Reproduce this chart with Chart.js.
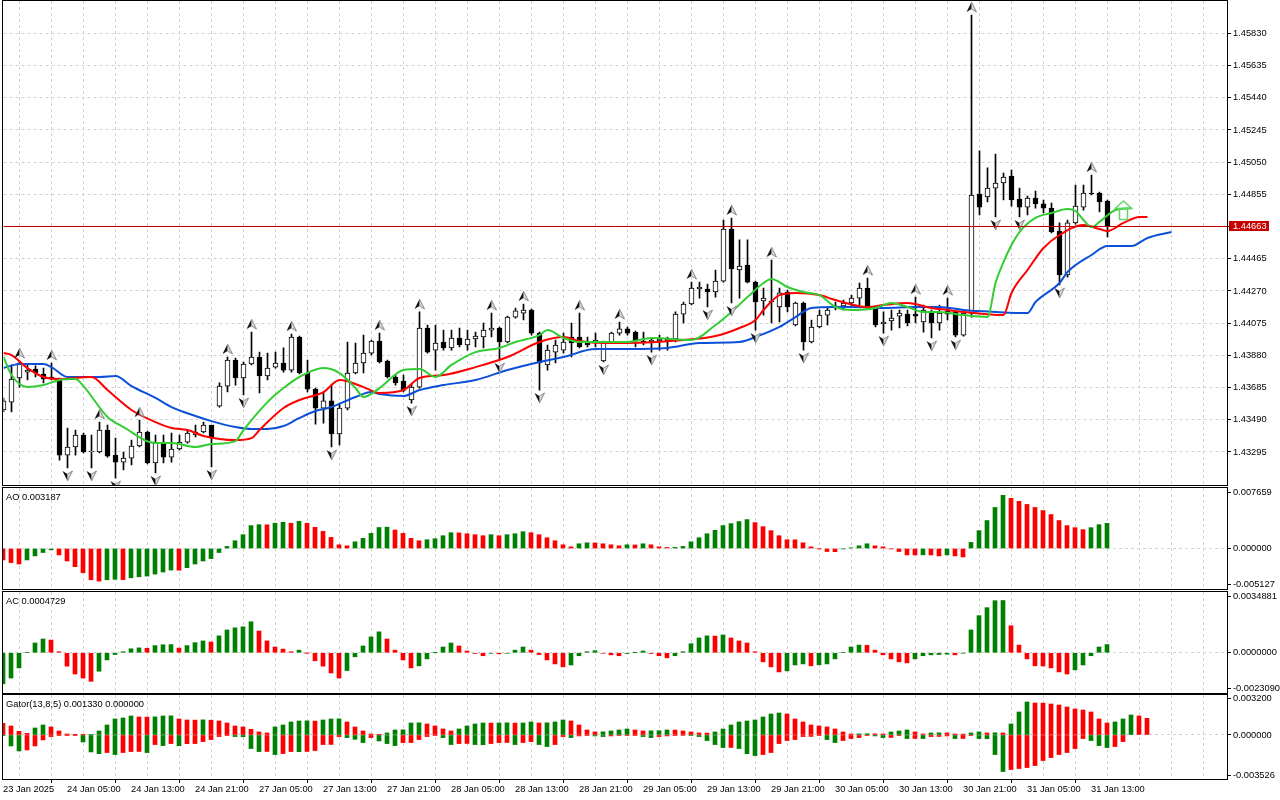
<!DOCTYPE html>
<html>
<head>
<meta charset="utf-8">
<script src="https://cdn.jsdelivr.net/npm/chart.js@4.4.1/dist/chart.umd.min.js"></script>
<style>
  html, body { margin: 0; padding: 0; background: #fff; }
  #wrap { position: relative; width: 1280px; height: 800px; overflow: hidden; background: #fff; }
  #wrap canvas { position: absolute; left: 0; }
</style>
</head>
<body>
<div id="wrap">
  <canvas id="main" width="1280" height="486" style="top:0"></canvas>
  <canvas id="ao" width="1280" height="103" style="top:487px"></canvas>
  <canvas id="ac" width="1280" height="103" style="top:591px"></canvas>
  <canvas id="gator" width="1280" height="105" style="top:694px"></canvas>
</div>
<script>
// hourly bars, 23 Jan 21:00 .. 31 Jan 18:00
const timeLabels = ['23 Jan 2025', '24 Jan 05:00', '24 Jan 13:00', '24 Jan 21:00', '27 Jan 05:00', '27 Jan 13:00',
  '27 Jan 21:00', '28 Jan 05:00', '28 Jan 13:00', '28 Jan 21:00', '29 Jan 05:00', '29 Jan 13:00', '29 Jan 21:00',
  '30 Jan 05:00', '30 Jan 13:00', '30 Jan 21:00', '31 Jan 05:00', '31 Jan 13:00'];

const openP = [
  1.43549,1.43597,1.43743,1.43779,1.43797,1.43767,1.43749,1.43731,1.43276,1.43325,
  1.43398,1.43295,1.43295,1.43428,1.43276,1.43234,1.43258,1.43331,1.43416,1.43228,
  1.43355,1.43264,1.43313,1.43355,1.43398,1.43416,1.43458,1.43573,1.43694,1.43852,
  1.43743,1.43828,1.43870,1.43755,1.43809,1.43834,1.43791,1.43991,1.43773,1.43676,
  1.43561,1.43604,1.43404,1.43561,1.43773,1.43834,1.43894,1.43967,1.43846,1.43749,
  1.43725,1.43610,1.43688,1.44046,1.43912,1.43961,1.43925,1.43985,1.43943,1.43979,
  1.43991,1.44033,1.44046,1.43961,1.44112,1.44136,1.44155,1.44015,1.43822,1.43900,
  1.43912,1.43991,1.43991,1.43955,1.43955,1.43846,1.43961,1.44015,1.44040,1.44021,
  1.43967,1.43961,1.43967,1.43967,1.43979,1.44130,1.44191,1.44282,1.44282,1.44264,
  1.44330,1.44645,1.44397,1.44427,1.44324,1.44209,1.44209,1.44173,1.44264,1.44064,
  1.44197,1.43961,1.44052,1.44124,1.44167,1.44179,1.44197,1.44227,1.44288,1.44173,
  1.44070,1.44088,1.44118,1.44130,1.44130,1.44082,1.44136,1.44076,1.44149,1.44143,
  1.44003,1.44136,1.44857,1.44839,1.44893,1.44924,1.44966,1.44827,1.44778,1.44833,
  1.44797,1.44772,1.44633,1.44367,1.44682,1.44778,1.44863,1.44863,1.44815];
const highP = [
  1.43622,1.43822,1.43846,1.43822,1.43816,1.43803,1.43834,1.43743,1.43440,1.43428,
  1.43410,1.43398,1.43476,1.43458,1.43379,1.43295,1.43367,1.43488,1.43422,1.43398,
  1.43398,1.43410,1.43398,1.43428,1.43458,1.43476,1.43458,1.43713,1.43870,1.43864,
  1.43840,1.44021,1.43900,1.43894,1.43900,1.43925,1.44009,1.43997,1.43852,1.43682,
  1.43658,1.43700,1.43591,1.43961,1.43955,1.44003,1.43973,1.44015,1.43852,1.43761,
  1.43761,1.43706,1.44143,1.44064,1.44064,1.44033,1.44033,1.44046,1.44033,1.44021,
  1.44076,1.44136,1.44052,1.44118,1.44167,1.44191,1.44161,1.44021,1.43943,1.43973,
  1.44015,1.44076,1.44136,1.43991,1.44015,1.43967,1.44021,1.44082,1.44052,1.44027,
  1.44021,1.43985,1.44003,1.43991,1.44143,1.44203,1.44324,1.44324,1.44312,1.44397,
  1.44700,1.44712,1.44579,1.44579,1.44330,1.44288,1.44457,1.44288,1.44276,1.44203,
  1.44203,1.44094,1.44155,1.44173,1.44203,1.44215,1.44245,1.44318,1.44348,1.44179,
  1.44143,1.44155,1.44155,1.44155,1.44233,1.44185,1.44155,1.44185,1.44227,1.44149,
  1.44143,1.45941,1.45118,1.45015,1.45099,1.44984,1.45002,1.44893,1.44845,1.44875,
  1.44821,1.44803,1.44682,1.44700,1.44912,1.44912,1.44972,1.44869,1.44821];
const lowP = [
  1.43537,1.43537,1.43688,1.43731,1.43749,1.43713,1.43731,1.43246,1.43198,1.43276,
  1.43289,1.43198,1.43289,1.43264,1.43137,1.43186,1.43216,1.43325,1.43222,1.43168,
  1.43228,1.43234,1.43307,1.43349,1.43386,1.43410,1.43204,1.43567,1.43658,1.43700,
  1.43640,1.43822,1.43652,1.43731,1.43803,1.43779,1.43779,1.43767,1.43658,1.43464,
  1.43470,1.43325,1.43337,1.43549,1.43767,1.43773,1.43882,1.43834,1.43743,1.43700,
  1.43658,1.43591,1.43682,1.43894,1.43791,1.43912,1.43912,1.43931,1.43912,1.43931,
  1.43925,1.43991,1.43852,1.43955,1.44106,1.44094,1.44003,1.43670,1.43791,1.43834,
  1.43894,1.43870,1.43925,1.43931,1.43931,1.43840,1.43955,1.44003,1.44003,1.43931,
  1.43943,1.43900,1.43912,1.43912,1.43961,1.44076,1.44185,1.44227,1.44173,1.44233,
  1.44324,1.44197,1.44227,1.44318,1.44033,1.44124,1.44076,1.44082,1.44143,1.44058,
  1.43912,1.43955,1.44046,1.44064,1.44155,1.44155,1.44173,1.44185,1.44167,1.44052,
  1.44015,1.44033,1.44046,1.44058,1.44076,1.44021,1.43985,1.44033,1.44094,1.43991,
  1.43997,1.44112,1.44730,1.44809,1.44718,1.44821,1.44784,1.44718,1.44730,1.44772,
  1.44742,1.44621,1.44306,1.44354,1.44675,1.44760,1.44851,1.44748,1.44597];
const closeP = [
  1.43604,1.43737,1.43834,1.43791,1.43773,1.43737,1.43737,1.43276,1.43325,1.43398,
  1.43295,1.43301,1.43428,1.43270,1.43234,1.43258,1.43331,1.43416,1.43228,1.43349,
  1.43264,1.43313,1.43355,1.43410,1.43416,1.43458,1.43386,1.43694,1.43852,1.43743,
  1.43828,1.43870,1.43755,1.43803,1.43834,1.43791,1.43991,1.43773,1.43676,1.43561,
  1.43604,1.43404,1.43561,1.43773,1.43834,1.43894,1.43967,1.43840,1.43749,1.43713,
  1.43670,1.43688,1.44046,1.43900,1.43955,1.43925,1.43985,1.43943,1.43979,1.43997,
  1.44033,1.44046,1.43961,1.44112,1.44149,1.44155,1.44015,1.43834,1.43912,1.43943,
  1.43961,1.43955,1.43931,1.43943,1.43973,1.43961,1.44015,1.44040,1.44015,1.43967,
  1.43961,1.43973,1.43979,1.43979,1.44130,1.44191,1.44288,1.44294,1.44264,1.44330,
  1.44645,1.44403,1.44421,1.44324,1.44203,1.44227,1.44203,1.44258,1.44173,1.44197,
  1.43961,1.44052,1.44124,1.44155,1.44179,1.44197,1.44227,1.44288,1.44173,1.44064,
  1.44082,1.44106,1.44136,1.44076,1.44118,1.44155,1.44076,1.44136,1.44130,1.44003,
  1.44136,1.44851,1.44778,1.44893,1.44924,1.44960,1.44821,1.44778,1.44833,1.44797,
  1.44772,1.44627,1.44367,1.44682,1.44784,1.44863,1.44857,1.44809,1.44663];

// bars carrying a fractal mark
const upFractals = [2, 6, 12, 17, 28, 31, 36, 47, 52, 61, 65, 72, 77, 86, 91, 96, 108, 114, 118, 121, 136];
const downFractals = [8, 11, 14, 19, 26, 30, 41, 51, 62, 67, 75, 81, 88, 91, 94, 100, 110, 116, 119, 124, 127, 132];

// alligator lines (bar index -> price)
const jawIdx = [0,2,5,6,8,12,14,16,19,21,24,26,29,31,33,35,37,39,41,44,46,47,50,52,55,59,63,67,70,74,
  78,83,87,92,94,97,99,101,104,107,110,114,117,120,124,128,129,132,133,136,138,141,143,146];
const jawVal = [1.43803,1.43828,1.43828,1.43809,1.43749,1.43749,1.43755,1.43694,1.43622,1.43567,
  1.43513,1.43482,1.43446,1.43434,1.43434,1.43452,1.43501,1.43543,1.43567,1.43628,
  1.43658,1.43646,1.43634,1.43670,1.43700,1.43731,1.43791,1.43840,1.43870,1.43918,
  1.43918,1.43925,1.43955,1.43961,1.43991,1.44052,1.44112,1.44167,1.44173,1.44173,
  1.44167,1.44173,1.44173,1.44155,1.44143,1.44136,1.44203,1.44318,1.44385,1.44488,
  1.44542,1.44542,1.44591,1.44627];
const teethIdx = [0,1,3,5,7,11,13,16,19,21,23,25,29,31,32,35,37,40,42,45,47,50,52,55,59,63,67,70,72,75,
  78,85,89,92,94,95,97,99,102,104,108,110,113,116,118,120,125,126,128,130,132,135,137,138,140,142,143];
const teethVal = [1.43894,1.43882,1.43803,1.43749,1.43737,1.43749,1.43670,1.43549,1.43476,1.43440,
  1.43428,1.43392,1.43367,1.43379,1.43428,1.43561,1.43610,1.43658,1.43731,1.43688,
  1.43652,1.43670,1.43743,1.43761,1.43809,1.43870,1.43961,1.43991,1.43967,1.43955,
  1.43955,1.43973,1.43997,1.44046,1.44094,1.44155,1.44245,1.44258,1.44245,1.44215,
  1.44173,1.44185,1.44197,1.44167,1.44155,1.44143,1.44124,1.44258,1.44397,1.44530,
  1.44609,1.44669,1.44645,1.44633,1.44682,1.44718,1.44718];
const lipsIdx = [0,1,3,5,7,9,10,13,15,19,21,24,26,29,30,33,35,37,40,42,44,45,47,50,52,54,56,59,62,64,
  67,68,70,72,76,78,81,86,89,91,93,95,96,98,100,102,104,106,109,111,113,115,117,120,123,124,125,126,127,129,
  131,133,134,135,136,137,139,141];
const lipsVal = [1.43870,1.43761,1.43688,1.43700,1.43731,1.43737,1.43694,1.43507,1.43446,1.43349,
  1.43349,1.43325,1.43343,1.43361,1.43428,1.43597,1.43682,1.43749,1.43803,1.43773,
  1.43682,1.43628,1.43682,1.43791,1.43797,1.43749,1.43822,1.43900,1.43925,1.43961,
  1.44003,1.44033,1.43985,1.43961,1.43961,1.43961,1.43985,1.43973,1.44064,1.44143,
  1.44233,1.44318,1.44342,1.44294,1.44264,1.44245,1.44173,1.44155,1.44167,1.44197,
  1.44173,1.44143,1.44143,1.44124,1.44112,1.44318,1.44445,1.44548,1.44627,1.44712,
  1.44742,1.44766,1.44754,1.44700,1.44657,1.44688,1.44760,1.44772];

const signalIdx = 140;
const signalVal = 1.44757;

const priceTicks = [1.43295, 1.43490, 1.43685, 1.43880, 1.44075, 1.44270, 1.44465,
  1.44660, 1.44855, 1.45050, 1.45245, 1.45440, 1.45635, 1.45830];

const aoValues = [
  -0.00145,-0.00179,-0.00196,-0.00145,-0.00094,-0.00051,-0.00017,-0.00081,-0.00158,-0.00230,
  -0.00307,-0.00396,-0.00413,-0.00396,-0.00390,-0.00395,-0.00371,-0.00358,-0.00349,-0.00324,
  -0.00298,-0.00273,-0.00275,-0.00243,-0.00196,-0.00158,-0.00128,-0.00051,0.00026,0.00098,
  0.00175,0.00290,0.00302,0.00300,0.00320,0.00332,0.00320,0.00345,0.00320,0.00268,
  0.00217,0.00141,0.00047,0.00034,0.00085,0.00128,0.00192,0.00266,0.00270,0.00234,
  0.00192,0.00128,0.00098,0.00111,0.00124,0.00162,0.00200,0.00198,0.00187,0.00175,
  0.00162,0.00175,0.00162,0.00175,0.00187,0.00213,0.00200,0.00175,0.00136,0.00098,
  0.00047,0.00021,0.00060,0.00072,0.00070,0.00060,0.00047,0.00034,0.00047,0.00045,
  0.00060,0.00047,0.00021,0.00013,0.00014,0.00026,0.00085,0.00136,0.00187,0.00230,
  0.00290,0.00315,0.00341,0.00366,0.00328,0.00277,0.00226,0.00162,0.00111,0.00110,
  0.00072,0.00021,-0.00002,-0.00038,-0.00040,-0.00005,0.00009,0.00034,0.00060,0.00034,
  0.00021,-0.00004,-0.00038,-0.00081,-0.00082,-0.00080,-0.00082,-0.00094,-0.00081,-0.00094,
  -0.00107,0.00077,0.00226,0.00354,0.00520,0.00673,0.00635,0.00597,0.00558,0.00520,
  0.00481,0.00430,0.00354,0.00290,0.00264,0.00239,0.00264,0.00302,0.003187];
const acValues = [
  -0.00178,-0.00145,-0.00087,0.00002,0.00056,0.00079,0.00073,0.00006,-0.00077,-0.00122,
  -0.00145,-0.00164,-0.00106,-0.00041,-0.00010,0.00006,0.00023,0.00028,0.00026,0.00041,
  0.00046,0.00047,0.00027,0.00041,0.00058,0.00068,0.00062,0.00097,0.00131,0.00143,
  0.00149,0.00178,0.00125,0.00068,0.00033,0.00021,0.00006,0.00015,-0.00001,-0.00046,
  -0.00077,-0.00116,-0.00145,-0.00102,-0.00023,0.00039,0.00091,0.00120,0.00079,0.00015,
  -0.00041,-0.00087,-0.00075,-0.00035,0.00001,0.00033,0.00056,0.00039,0.00010,-0.00004,
  -0.00017,-0.00003,-0.00006,-0.00003,0.00015,0.00033,0.00015,-0.00010,-0.00041,-0.00064,
  -0.00081,-0.00070,-0.00017,0.00006,0.00012,-0.00003,-0.00012,-0.00017,-0.00004,0.00001,
  0.00010,-0.00004,-0.00017,-0.00029,-0.00017,0.00006,0.00052,0.00085,0.00097,0.00096,
  0.00102,0.00085,0.00068,0.00056,0.00006,-0.00052,-0.00081,-0.00110,-0.00104,-0.00070,
  -0.00064,-0.00075,-0.00069,-0.00064,-0.00035,0.00002,0.00033,0.00044,0.00043,0.00015,
  -0.00012,-0.00035,-0.00052,-0.00058,-0.00035,-0.00017,-0.00012,-0.00010,-0.00008,-0.00012,
  -0.00002,0.00131,0.00213,0.00259,0.00299,0.00300,0.00155,0.00044,-0.00035,-0.00075,
  -0.00076,-0.00087,-0.00110,-0.00122,-0.00098,-0.00070,-0.00017,0.00033,0.0004729];
const gatorUp = [
  0.00093,0.00072,0.00029,0.00013,0.00056,0.00080,0.00064,0.00032,0.00008,0.00003,
  0.00001,0.00003,0.00032,0.00080,0.00128,0.00136,0.00152,0.00144,0.00143,0.00145,
  0.00152,0.00153,0.00128,0.00120,0.00119,0.00121,0.00118,0.00112,0.00096,0.00072,
  0.00064,0.00045,0.00024,0.00016,0.00064,0.00080,0.00104,0.00112,0.00113,0.00111,
  0.00120,0.00128,0.00129,0.00104,0.00064,0.00032,0.00008,0.00002,0.00016,0.00040,
  0.00041,0.00096,0.00097,0.00088,0.00072,0.00048,0.00032,0.00048,0.00072,0.00088,
  0.00096,0.00095,0.00096,0.00097,0.00095,0.00096,0.00104,0.00096,0.00097,0.00104,
  0.00120,0.00112,0.00080,0.00040,0.00024,0.00025,0.00032,0.00040,0.00048,0.00040,
  0.00032,0.00033,0.00034,0.00040,0.00039,0.00032,0.00024,0.00016,0.00015,0.00024,
  0.00048,0.00080,0.00104,0.00112,0.00120,0.00144,0.00168,0.00176,0.00168,0.00128,
  0.00104,0.00080,0.00072,0.00064,0.00048,0.00024,0.00008,0.00009,0.00010,0.00009,
  0.00008,0.00024,0.00032,0.00040,0.00024,0.00008,0.00016,0.00017,0.00016,0.00008,
  0.00007,0.00016,0.00024,0.00016,0.00017,0.00016,0.00088,0.00184,0.00264,0.00256,
  0.00255,0.00248,0.00240,0.00224,0.00208,0.00200,0.00184,0.00128,0.00096,0.00104,
  0.00128,0.00160,0.00152,0.00133];
const gatorDown = [
  -0.00003,-0.00088,-0.00128,-0.00120,-0.00088,-0.00040,-0.00013,-0.00005,-0.00002,-0.00001,
  -0.00056,-0.00136,-0.00150,-0.00141,-0.00157,-0.00141,-0.00133,-0.00132,-0.00141,-0.00077,
  -0.00085,-0.00069,-0.00086,-0.00070,-0.00069,-0.00053,-0.00037,-0.00013,-0.00001,-0.00013,
  -0.00014,-0.00109,-0.00133,-0.00132,-0.00157,-0.00149,-0.00133,-0.00134,-0.00132,-0.00125,
  -0.00077,-0.00076,-0.00013,-0.00021,-0.00035,-0.00061,-0.00021,-0.00048,-0.00069,-0.00085,
  -0.00061,-0.00061,-0.00037,-0.00013,-0.00003,-0.00021,-0.00077,-0.00069,-0.00068,-0.00077,
  -0.00078,-0.00069,-0.00061,-0.00060,-0.00077,-0.00061,-0.00053,-0.00077,-0.00093,-0.00077,
  -0.00013,-0.00021,-0.00008,-0.00003,-0.00008,-0.00013,-0.00008,-0.00005,-0.00003,-0.00002,
  -0.00013,-0.00021,-0.00013,-0.00008,-0.00005,-0.00004,-0.00005,-0.00013,-0.00045,-0.00077,
  -0.00101,-0.00100,-0.00109,-0.00150,-0.00165,-0.00157,-0.00141,-0.00069,-0.00045,-0.00037,
  -0.00013,-0.00012,-0.00005,-0.00037,-0.00061,-0.00045,-0.00029,-0.00021,-0.00005,-0.00008,
  -0.00021,-0.00020,-0.00003,-0.00029,-0.00028,-0.00029,-0.00013,-0.00012,-0.00008,-0.00029,
  -0.00028,-0.00005,-0.00029,-0.00030,-0.00157,-0.00293,-0.00277,-0.00269,-0.00261,-0.00245,
  -0.00205,-0.00181,-0.00157,-0.00141,-0.00109,-0.00029,-0.00045,-0.00085,-0.00101,-0.00093,
  -0.00053];

const aoTickLabels = ['-0.005127', '0.000000', '0.007659'];
const acTickLabels = ['-0.0023090', '0.0000000', '0.0034881'];
const gatorTickLabels = ['-0.003526', '0.000000', '0.003200'];

Chart.defaults.font.family = '"Liberation Sans", Arial, sans-serif';
Chart.defaults.font.size = 9.3;
Chart.defaults.color = '#000';

const GREEN = '#008000';
const RED = '#ff0000';
const GRID = '#d2d2d2';
const lastPrice = closeP[closeP.length - 1];

function trendColors(values, first, byMagnitude) {
  const out = [];
  values.forEach((v, i) => {
    if (i === 0) { out.push(first); return; }
    const cur = byMagnitude ? Math.abs(v) : v;
    const prev = byMagnitude ? Math.abs(values[i - 1]) : values[i - 1];
    out.push(cur > prev ? GREEN : cur < prev ? RED : out[i - 1]);
  });
  return out;
}

function pairs(idx, vals) {
  return idx.map((x, i) => ({x: x, y: vals[i]}));
}

// fractal arrow, drawn 8px away from the bar's extreme
function fractalIcon(up) {
  const c = document.createElement('canvas');
  c.width = 11; c.height = 28;
  const g = c.getContext('2d');
  const cy = up ? 6 : 22, s = up ? 1 : -1;
  g.beginPath();
  g.moveTo(5.5, cy - 5 * s); g.lineTo(0.5, cy + 5 * s); g.lineTo(5.5, cy + 2 * s); g.closePath();
  g.fillStyle = '#111'; g.fill();
  g.beginPath();
  g.moveTo(5.5, cy - 5 * s); g.lineTo(10.5, cy + 5 * s); g.lineTo(5.5, cy + 2 * s); g.closePath();
  g.fillStyle = '#d8d8d8'; g.fill();
  g.strokeStyle = '#8a8a8a'; g.lineWidth = 1; g.stroke();
  return c;
}

function signalIcon() {
  const c = document.createElement('canvas');
  c.width = 19; c.height = 21;
  const g = c.getContext('2d');
  g.strokeStyle = '#62d462'; g.lineWidth = 1.5;
  g.beginPath();
  g.moveTo(9.5, 1); g.lineTo(18, 8.5); g.lineTo(1, 8.5); g.closePath();
  g.stroke();
  g.strokeRect(5.5, 8.5, 8, 11);
  return c;
}

const framePlugin = {
  id: 'frame',
  afterDraw(chart, args, opts) {
    const ctx = chart.ctx, a = chart.chartArea;
    const l = Math.floor(a.left) - 0.5, t = Math.floor(a.top) - 0.5;
    const r = Math.floor(a.right) + 0.5, b = Math.floor(a.bottom) + 0.5;
    ctx.save();
    ctx.strokeStyle = '#000';
    ctx.lineWidth = 1;
    ctx.strokeRect(l, t, r - l, b - t);
    if (opts.title) {
      ctx.fillStyle = '#000';
      ctx.font = '9.3px "Liberation Sans", Arial, sans-serif';
      ctx.textBaseline = 'middle';
      ctx.fillText(opts.title, a.left + 3, a.top + 9);
    }
    ctx.restore();
  }
};

const lastPricePlugin = {
  id: 'lastPrice',
  afterDatasetsDraw(chart) {
    const ctx = chart.ctx, a = chart.chartArea;
    const y = Math.round(chart.scales.y.getPixelForValue(lastPrice)) + 0.5;
    ctx.save();
    ctx.strokeStyle = '#c80000';
    ctx.lineWidth = 1;
    ctx.beginPath(); ctx.moveTo(a.left, y); ctx.lineTo(a.right, y); ctx.stroke();
    ctx.restore();
  },
  afterDraw(chart) {
    const ctx = chart.ctx, a = chart.chartArea;
    const y = Math.round(chart.scales.y.getPixelForValue(lastPrice));
    ctx.save();
    ctx.fillStyle = '#c80000';
    ctx.fillRect(a.right + 2, y - 5, 40, 10);
    ctx.fillStyle = '#fff';
    ctx.font = '9.3px "Liberation Sans", Arial, sans-serif';
    ctx.textBaseline = 'middle';
    ctx.fillText(lastPrice.toFixed(5), a.right + 6, y + 0.5);
    ctx.restore();
  }
};

function timeAxis(left, showLabels) {
  const hasLabel = v => v % 8 === 0 && timeLabels[v / 8] !== undefined;
  return {
    type: 'linear',
    min: 0,
    max: (1227 - left) / 8,
    bounds: 'data',
    offset: false,
    afterBuildTicks(s) {
      const t = [];
      for (let v = 0; v <= s.max; v += 4) t.push({value: v});
      s.ticks = t;
    },
    afterFit(s) { s.height = showLabels ? 20 : 0; s.paddingLeft = 0; s.paddingRight = 0; },
    ticks: {
      display: showLabels, autoSkip: false, maxRotation: 0, minRotation: 0, align: 'start', padding: 1,
      callback: v => hasLabel(v) ? timeLabels[v / 8] : ''
    },
    grid: {
      color: GRID, drawTicks: showLabels, tickLength: 4, tickBorderDash: [],
      tickColor: c => (c.tick && hasLabel(c.tick.value)) ? '#000' : 'rgba(0,0,0,0)'
    },
    border: { display: false, dash: [3, 3] }
  };
}

const baseOptions = {
  responsive: false,
  animation: false,
  events: [],
  devicePixelRatio: 1
};

// ---------- price panel ----------
const bodyColors = openP.map((o, i) => closeP[i] > o ? '#ffffff' : '#000000');

new Chart(document.getElementById('main'), {
  type: 'bar',
  data: {
    datasets: [
      {
        type: 'line', label: 'Fractals up', showLine: false, order: 0, clip: false,
        data: upFractals.map(i => ({x: i, y: highP[i]})),
        pointStyle: fractalIcon(true), pointRadius: 6
      },
      {
        type: 'line', label: 'Fractals down', showLine: false, order: 0, clip: false,
        data: downFractals.map(i => ({x: i, y: lowP[i]})),
        pointStyle: fractalIcon(false), pointRadius: 6
      },
      {
        type: 'line', label: 'Signal', showLine: false, order: 0, clip: false,
        data: [{x: signalIdx, y: signalVal}],
        pointStyle: signalIcon(), pointRadius: 8
      },
      {
        type: 'line', label: 'Lips', order: 1, clip: 0,
        data: pairs(lipsIdx, lipsVal),
        borderColor: '#32cd32', borderWidth: 2, pointRadius: 0, cubicInterpolationMode: 'monotone'
      },
      {
        type: 'line', label: 'Teeth', order: 2, clip: 0,
        data: pairs(teethIdx, teethVal),
        borderColor: '#ff0000', borderWidth: 2, pointRadius: 0, cubicInterpolationMode: 'monotone'
      },
      {
        type: 'line', label: 'Jaw', order: 3, clip: 0,
        data: pairs(jawIdx, jawVal),
        borderColor: '#0b50d7', borderWidth: 2, pointRadius: 0, cubicInterpolationMode: 'monotone'
      },
      {
        label: 'Body', order: 4, clip: 0, grouped: false,
        data: openP.map((o, i) => ({x: i, y: [o, closeP[i]]})),
        backgroundColor: bodyColors, borderColor: '#000', borderWidth: 1, borderSkipped: false,
        barThickness: 5, minBarLength: 1
      },
      {
        label: 'Wick', order: 5, clip: 0, grouped: false,
        data: lowP.map((l, i) => ({x: i, y: [l, highP[i]]})),
        backgroundColor: '#000', borderWidth: 0, barThickness: 1
      }
    ]
  },
  options: Object.assign({}, baseOptions, {
    layout: { autoPadding: false, padding: { left: 3.5, right: 0, top: 1, bottom: 1 } },
    plugins: { legend: { display: false }, tooltip: { enabled: false }, frame: {} },
    scales: {
      x: timeAxis(3.5, false),
      y: {
        position: 'right',
        min: 1.43095, max: 1.46026, bounds: 'data',
        afterBuildTicks(s) { s.ticks = priceTicks.map(v => ({value: v})); },
        afterFit(s) { s.width = 53; s.paddingTop = 0; s.paddingBottom = 0; },
        ticks: { padding: 2, callback: v => v.toFixed(5) },
        grid: { color: GRID, tickColor: '#000', tickLength: 4, tickBorderDash: [] },
        border: { display: false, dash: [3, 3] }
      }
    }
  }),
  plugins: [framePlugin, lastPricePlugin]
});

// ---------- oscillator panels ----------
function oscChart(id, datasets, min, max, tickLabels, title, showTime) {
  const inset = (max - min) * 0.045;
  return new Chart(document.getElementById(id), {
    type: 'bar',
    data: { datasets: datasets },
    options: Object.assign({}, baseOptions, {
      layout: { autoPadding: false, padding: { left: 3, right: 0, top: 1, bottom: showTime ? 0 : 1 } },
      plugins: { legend: { display: false }, tooltip: { enabled: false }, frame: { title: title } },
      scales: {
        x: timeAxis(3, showTime),
        y: {
          position: 'right', min: min, max: max, bounds: 'data',
          afterBuildTicks(s) { s.ticks = [{value: min + inset}, {value: 0}, {value: max - inset}]; },
          afterFit(s) { s.width = 53; s.paddingTop = 0; s.paddingBottom = 0; },
          ticks: { padding: 2, callback: (v, i) => tickLabels[i] },
          grid: {
            color: c => (c.tick && c.tick.value === 0) ? GRID : 'rgba(0,0,0,0)',
            tickColor: '#000', tickLength: 4, tickBorderDash: []
          },
          border: { display: false, dash: [3, 3] }
        }
      }
    }),
    plugins: [framePlugin]
  });
}

function histogram(label, values, colors) {
  return {
    label: label, grouped: false, clip: 0, barThickness: 4,
    data: values.map((v, i) => ({x: i, y: v})),
    backgroundColor: colors, borderWidth: 0
  };
}

oscChart('ao', [histogram('AO', aoValues, trendColors(aoValues, RED, false))],
  -0.005127, 0.007659, aoTickLabels,
  'AO ' + aoValues[aoValues.length - 1].toFixed(6), false);

oscChart('ac', [histogram('AC', acValues, trendColors(acValues, GREEN, false))],
  -0.0023090, 0.0034881, acTickLabels,
  'AC ' + acValues[acValues.length - 1].toFixed(7), false);

oscChart('gator', [
    histogram('Gator up', gatorUp, trendColors(gatorUp, RED, true)),
    histogram('Gator down', gatorDown, trendColors(gatorDown, GREEN, true))
  ],
  -0.003526, 0.003200, gatorTickLabels,
  'Gator(13,8,5) ' + gatorUp[gatorUp.length - 1].toFixed(6) + ' 0.000000', true);
</script>
</body>
</html>
